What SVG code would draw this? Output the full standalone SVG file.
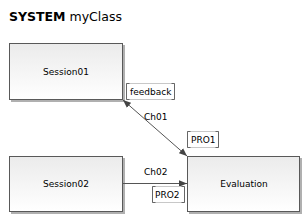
<svg xmlns="http://www.w3.org/2000/svg" width="303" height="215" viewBox="0 0 303 215">
<style>
.node rect.b{fill:url(#g);stroke:#595959;stroke-width:1}
.node rect.s{fill:#b0b0b0}
.nt{font-family:"DejaVu Sans",sans-serif;font-size:9px;fill:#000;text-anchor:middle}
.lbl rect{fill:#fff;stroke:#c8c8c8;stroke-width:1}
.lbl path{fill:none;stroke:#666;stroke-width:1}
.lt{font-family:"DejaVu Sans",sans-serif;font-size:9px;fill:#000}
.c{stroke:#555;stroke-width:1;fill:none}
</style>
<defs>
<linearGradient id="g" x1="0" y1="0" x2="0" y2="1">
<stop offset="0" stop-color="#ebebeb"/>
<stop offset="1" stop-color="#ffffff"/>
</linearGradient>
<marker id="a" viewBox="0 0 10 10" refX="10" refY="5" markerWidth="8" markerHeight="8" orient="auto-start-reverse" markerUnits="userSpaceOnUse">
<path d="M0,1 L10,5 L0,9 Z" fill="#444"/>
</marker>
</defs>
<rect width="303" height="215" fill="#fff"/>
<text x="9" y="21" font-family="'DejaVu Sans',sans-serif" font-size="12.5" fill="#000"><tspan font-weight="bold">SYSTEM</tspan> myClass</text>

<g id="Session01" class="node">
<rect class="s" x="11" y="45" width="114" height="57"/>
<rect class="b" x="9.5" y="43.5" width="113" height="56"/>
<text class="nt" x="66" y="74.5">Session01</text>
</g>
<g id="Session02" class="node">
<rect class="s" x="11" y="158" width="114" height="56"/>
<rect class="b" x="9.5" y="156.5" width="113" height="55"/>
<text class="nt" x="66" y="187">Session02</text>
</g>
<g id="Evaluation" class="node">
<rect class="s" x="189" y="158" width="113" height="56"/>
<rect class="b" x="187.5" y="156.5" width="112" height="55"/>
<text class="nt" x="244" y="187">Evaluation</text>
</g>

<g id="connectors">
<line class="c" x1="123" y1="100" x2="187" y2="156" marker-start="url(#a)" marker-end="url(#a)"/>
<text class="lt" x="144" y="120">Ch01</text>
<line class="c" x1="123" y1="183.5" x2="187" y2="183.5" marker-end="url(#a)"/>
<text class="lt" x="144" y="175">Ch02</text>
</g>

<g id="feedback" class="lbl">
<rect x="126.5" y="83.5" width="48" height="16"/>
<path d="M129.5,83.5 H126.5 V99.5 H129.5 M171.5,83.5 H174.5 V99.5 H171.5"/>
<text class="lt" x="130" y="95">feedback</text>
</g>
<g id="PRO1" class="lbl">
<rect x="187.5" y="131.5" width="31" height="16"/>
<path d="M190.5,131.5 H187.5 V147.5 H190.5 M215.5,131.5 H218.5 V147.5 H215.5"/>
<text class="lt" x="191" y="143">PRO1</text>
</g>
<g id="PRO2" class="lbl">
<rect x="152.5" y="186.5" width="32" height="16"/>
<path d="M155.5,186.5 H152.5 V202.5 H155.5 M181.5,186.5 H184.5 V202.5 H181.5"/>
<text class="lt" x="155" y="198">PRO2</text>
</g>
</svg>
